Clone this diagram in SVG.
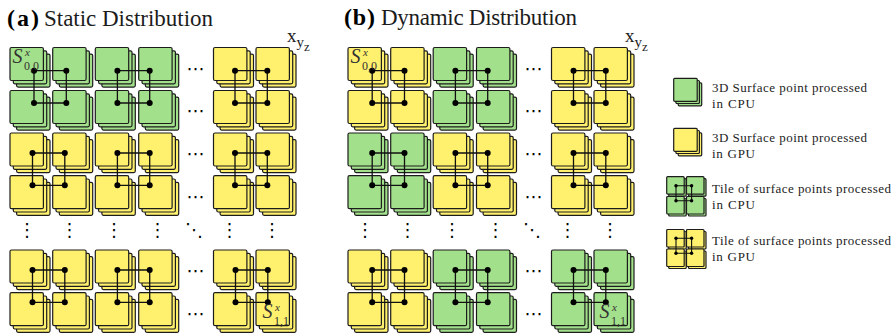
<svg xmlns="http://www.w3.org/2000/svg" width="895" height="335" viewBox="0 0 895 335">
<style>
.cpu{fill:#a3e08b}.gpu{fill:#fff06e}
.sq{stroke:#1c1c1c;stroke-width:1.2}
.lk{fill:none;stroke:#111;stroke-width:1.3}
.ttl{font-family:"Liberation Serif",serif;font-size:23px;fill:#1c1c1c}
.bold{font-weight:700;font-size:24px;fill:#000}
.leg{font-family:"Liberation Serif",serif;font-size:13px;fill:#1c1c1c}
.ax{font-family:"Liberation Serif",serif;fill:#1c1c1c}
.dots{font-family:"DejaVu Sans",sans-serif;font-size:18px;fill:#000;text-anchor:middle}
.s{font-family:"Liberation Serif",serif;fill:#333}
</style>
<defs>
<g id="st"><rect class="sq" x="6.6" y="6.6" width="33.4" height="33" rx="1.5"/><rect class="sq" x="3.3" y="3.3" width="33.4" height="33" rx="1.5"/><rect class="sq" x="0" y="0" width="33.4" height="33" rx="1.5"/></g>
<g id="ls"><rect class="sq" x="4.5" y="4.5" width="23.5" height="23" rx="1"/><rect class="sq" x="2.2" y="2.2" width="23.5" height="23" rx="1"/><rect class="sq" x="0" y="0" width="23.5" height="23" rx="1"/></g>
<g id="ts"><rect class="sq" x="2" y="2" width="17.5" height="17.5" rx="1"/><rect class="sq" x="0" y="0" width="17.5" height="17.5" rx="1"/></g>
<g id="lk"><path class="lk" d="M0 0H32.3V32.3H0Z"/><circle r="3"/><circle cx="32.3" r="3"/><circle cy="32.3" r="3"/><circle cx="32.3" cy="32.3" r="3"/></g>
<g id="sl"><path class="lk" style="stroke-width:1.1" d="M0 0H15.6V15H0Z"/><circle r="1.7"/><circle cx="15.6" r="1.7"/><circle cy="15" r="1.7"/><circle cx="15.6" cy="15" r="1.7"/></g>
</defs>
<g id="titles">
<text class="ttl bold" x="7" y="26" textLength="32">(a)</text><text class="ttl" x="44" y="26" textLength="169">Static Distribution</text>
<text class="ttl bold" x="344" y="25" textLength="31">(b)</text><text class="ttl" x="381" y="25" textLength="196">Dynamic Distribution</text>
</g>
<g id="panel-a-nodes">
<g id="a-0-0"><use href="#st" class="cpu" x="10" y="47.5"/></g><g id="a-0-1"><use href="#st" class="cpu" x="52.7" y="47.5"/></g><g id="a-0-2"><use href="#st" class="cpu" x="95.3" y="47.5"/></g><g id="a-0-3"><use href="#st" class="cpu" x="138.7" y="47.5"/></g><g id="a-0-4"><use href="#st" class="gpu" x="213.5" y="47.5"/></g><g id="a-0-5"><use href="#st" class="gpu" x="256" y="47.5"/></g>
<g id="a-1-0"><use href="#st" class="cpu" x="10" y="90.5"/></g><g id="a-1-1"><use href="#st" class="cpu" x="52.7" y="90.5"/></g><g id="a-1-2"><use href="#st" class="cpu" x="95.3" y="90.5"/></g><g id="a-1-3"><use href="#st" class="cpu" x="138.7" y="90.5"/></g><g id="a-1-4"><use href="#st" class="gpu" x="213.5" y="90.5"/></g><g id="a-1-5"><use href="#st" class="gpu" x="256" y="90.5"/></g>
<g id="a-2-0"><use href="#st" class="gpu" x="10" y="133"/></g><g id="a-2-1"><use href="#st" class="gpu" x="52.7" y="133"/></g><g id="a-2-2"><use href="#st" class="gpu" x="95.3" y="133"/></g><g id="a-2-3"><use href="#st" class="gpu" x="138.7" y="133"/></g><g id="a-2-4"><use href="#st" class="gpu" x="213.5" y="133"/></g><g id="a-2-5"><use href="#st" class="gpu" x="256" y="133"/></g>
<g id="a-3-0"><use href="#st" class="gpu" x="10" y="175.7"/></g><g id="a-3-1"><use href="#st" class="gpu" x="52.7" y="175.7"/></g><g id="a-3-2"><use href="#st" class="gpu" x="95.3" y="175.7"/></g><g id="a-3-3"><use href="#st" class="gpu" x="138.7" y="175.7"/></g><g id="a-3-4"><use href="#st" class="gpu" x="213.5" y="175.7"/></g><g id="a-3-5"><use href="#st" class="gpu" x="256" y="175.7"/></g>
<g id="a-4-0"><use href="#st" class="gpu" x="10" y="250"/></g><g id="a-4-1"><use href="#st" class="gpu" x="52.7" y="250"/></g><g id="a-4-2"><use href="#st" class="gpu" x="95.3" y="250"/></g><g id="a-4-3"><use href="#st" class="gpu" x="138.7" y="250"/></g><g id="a-4-4"><use href="#st" class="gpu" x="213.5" y="250"/></g><g id="a-4-5"><use href="#st" class="gpu" x="256" y="250"/></g>
<g id="a-5-0"><use href="#st" class="gpu" x="10" y="292.7"/></g><g id="a-5-1"><use href="#st" class="gpu" x="52.7" y="292.7"/></g><g id="a-5-2"><use href="#st" class="gpu" x="95.3" y="292.7"/></g><g id="a-5-3"><use href="#st" class="gpu" x="138.7" y="292.7"/></g><g id="a-5-4"><use href="#st" class="gpu" x="213.5" y="292.7"/></g><g id="a-5-5"><use href="#st" class="gpu" x="256" y="292.7"/></g>
</g>
<g id="panel-b-nodes">
<g id="b-0-0"><use href="#st" class="gpu" x="348" y="47.5"/></g><g id="b-0-1"><use href="#st" class="gpu" x="390.7" y="47.5"/></g><g id="b-0-2"><use href="#st" class="cpu" x="433.2" y="47.5"/></g><g id="b-0-3"><use href="#st" class="cpu" x="476.5" y="47.5"/></g><g id="b-0-4"><use href="#st" class="gpu" x="551.5" y="47.5"/></g><g id="b-0-5"><use href="#st" class="gpu" x="594" y="47.5"/></g>
<g id="b-1-0"><use href="#st" class="gpu" x="348" y="90.5"/></g><g id="b-1-1"><use href="#st" class="gpu" x="390.7" y="90.5"/></g><g id="b-1-2"><use href="#st" class="cpu" x="433.2" y="90.5"/></g><g id="b-1-3"><use href="#st" class="cpu" x="476.5" y="90.5"/></g><g id="b-1-4"><use href="#st" class="gpu" x="551.5" y="90.5"/></g><g id="b-1-5"><use href="#st" class="gpu" x="594" y="90.5"/></g>
<g id="b-2-0"><use href="#st" class="cpu" x="348" y="133"/></g><g id="b-2-1"><use href="#st" class="cpu" x="390.7" y="133"/></g><g id="b-2-2"><use href="#st" class="gpu" x="433.2" y="133"/></g><g id="b-2-3"><use href="#st" class="gpu" x="476.5" y="133"/></g><g id="b-2-4"><use href="#st" class="gpu" x="551.5" y="133"/></g><g id="b-2-5"><use href="#st" class="gpu" x="594" y="133"/></g>
<g id="b-3-0"><use href="#st" class="cpu" x="348" y="175.7"/></g><g id="b-3-1"><use href="#st" class="cpu" x="390.7" y="175.7"/></g><g id="b-3-2"><use href="#st" class="gpu" x="433.2" y="175.7"/></g><g id="b-3-3"><use href="#st" class="gpu" x="476.5" y="175.7"/></g><g id="b-3-4"><use href="#st" class="gpu" x="551.5" y="175.7"/></g><g id="b-3-5"><use href="#st" class="gpu" x="594" y="175.7"/></g>
<g id="b-4-0"><use href="#st" class="gpu" x="348" y="250"/></g><g id="b-4-1"><use href="#st" class="gpu" x="390.7" y="250"/></g><g id="b-4-2"><use href="#st" class="cpu" x="433.2" y="250"/></g><g id="b-4-3"><use href="#st" class="cpu" x="476.5" y="250"/></g><g id="b-4-4"><use href="#st" class="cpu" x="551.5" y="250"/></g><g id="b-4-5"><use href="#st" class="cpu" x="594" y="250"/></g>
<g id="b-5-0"><use href="#st" class="gpu" x="348" y="292.7"/></g><g id="b-5-1"><use href="#st" class="gpu" x="390.7" y="292.7"/></g><g id="b-5-2"><use href="#st" class="cpu" x="433.2" y="292.7"/></g><g id="b-5-3"><use href="#st" class="cpu" x="476.5" y="292.7"/></g><g id="b-5-4"><use href="#st" class="cpu" x="551.5" y="292.7"/></g><g id="b-5-5"><use href="#st" class="cpu" x="594" y="292.7"/></g>
</g>
<g id="connectors">
<use href="#lk" x="34" y="70.7"/><use href="#lk" x="117.4" y="70.7"/><use href="#lk" x="235" y="70.7"/>
<use href="#lk" x="32.5" y="153"/><use href="#lk" x="117.4" y="153"/><use href="#lk" x="235" y="153"/>
<use href="#lk" x="32.5" y="270"/><use href="#lk" x="117.4" y="270"/><use href="#lk" x="235.5" y="270"/>
<use href="#lk" x="372.2" y="70.7"/><use href="#lk" x="455.4" y="70.7"/><use href="#lk" x="573.5" y="70.7"/>
<use href="#lk" x="372.2" y="153"/><use href="#lk" x="455.4" y="153"/><use href="#lk" x="573.5" y="153"/>
<use href="#lk" x="372.2" y="270"/><use href="#lk" x="455.4" y="270"/><use href="#lk" x="573.5" y="270"/>
</g>
<g id="ellipses" class="dots">
<text x="195.5" y="75">⋯</text><text x="195.5" y="117">⋯</text><text x="195.5" y="160">⋯</text><text x="195.5" y="203">⋯</text><text x="195.5" y="277">⋯</text><text x="195.5" y="320">⋯</text>
<text x="533.5" y="75">⋯</text><text x="533.5" y="117">⋯</text><text x="533.5" y="160">⋯</text><text x="533.5" y="203">⋯</text><text x="533.5" y="277">⋯</text><text x="533.5" y="320">⋯</text>
<text x="27" y="236">⋮</text><text x="69.5" y="236">⋮</text><text x="114" y="236">⋮</text><text x="157.5" y="236">⋮</text><text x="194" y="236">⋱</text><text x="229.5" y="236">⋮</text><text x="272" y="236">⋮</text>
<text x="365" y="236">⋮</text><text x="407.5" y="236">⋮</text><text x="452" y="236">⋮</text><text x="495.5" y="236">⋮</text><text x="532" y="236">⋱</text><text x="567.5" y="236">⋮</text><text x="610" y="236">⋮</text>
</g>
<g id="labels">
<text class="s" x="12.5" y="63" font-size="20" font-style="italic">S<tspan x="25" y="56" font-size="11">x</tspan><tspan x="24" y="69.5" font-size="12" font-style="normal">0,0</tspan></text>
<text class="s" x="350.5" y="63" font-size="20" font-style="italic">S<tspan x="363" y="56" font-size="11">x</tspan><tspan x="362" y="69.5" font-size="12" font-style="normal">0,0</tspan></text>
<text class="s" x="262.5" y="318" font-size="20" font-style="italic">S<tspan x="275" y="311" font-size="11">x</tspan><tspan x="274" y="324.5" font-size="12" font-style="normal">1,1</tspan></text>
<text class="s" x="599.5" y="318" font-size="20" font-style="italic">S<tspan x="612" y="311" font-size="11">x</tspan><tspan x="611" y="324.5" font-size="12" font-style="normal">1,1</tspan></text>
<text class="ax" x="287" y="42" font-size="19">x<tspan x="296.5" y="47" font-size="15">y</tspan><tspan x="304" y="50.5" font-size="13">z</tspan></text>
<text class="ax" x="625" y="42" font-size="19">x<tspan x="634.5" y="47" font-size="15">y</tspan><tspan x="642" y="50.5" font-size="13">z</tspan></text>
</g>
<g id="legend-cpu-point"><use href="#ls" class="cpu" x="673.7" y="78.3"/><text class="leg" x="712" y="92" textLength="155">3D Surface point processed</text><text class="leg" x="712" y="108" textLength="43">in CPU</text></g>
<g id="legend-gpu-point"><use href="#ls" class="gpu" x="673.7" y="128.3"/><text class="leg" x="712" y="142" textLength="155">3D Surface point processed</text><text class="leg" x="712" y="158" textLength="43">in GPU</text></g>
<g id="legend-cpu-tile"><use href="#ts" class="cpu" x="666.7" y="176.7"/><use href="#ts" class="cpu" x="686.5" y="176.7"/><use href="#ts" class="cpu" x="666.7" y="196.5"/><use href="#ts" class="cpu" x="686.5" y="196.5"/><use href="#sl" x="676" y="185.7"/><text class="leg" x="712" y="193" textLength="179">Tile of surface points processed</text><text class="leg" x="712" y="208.5" textLength="43">in CPU</text></g>
<g id="legend-gpu-tile"><use href="#ts" class="gpu" x="666.7" y="229.5"/><use href="#ts" class="gpu" x="686.5" y="229.5"/><use href="#ts" class="gpu" x="666.7" y="249"/><use href="#ts" class="gpu" x="686.5" y="249"/><use href="#sl" x="676" y="238.3"/><text class="leg" x="712" y="245" textLength="179">Tile of surface points processed</text><text class="leg" x="712" y="261" textLength="43">in GPU</text></g>
</svg>
